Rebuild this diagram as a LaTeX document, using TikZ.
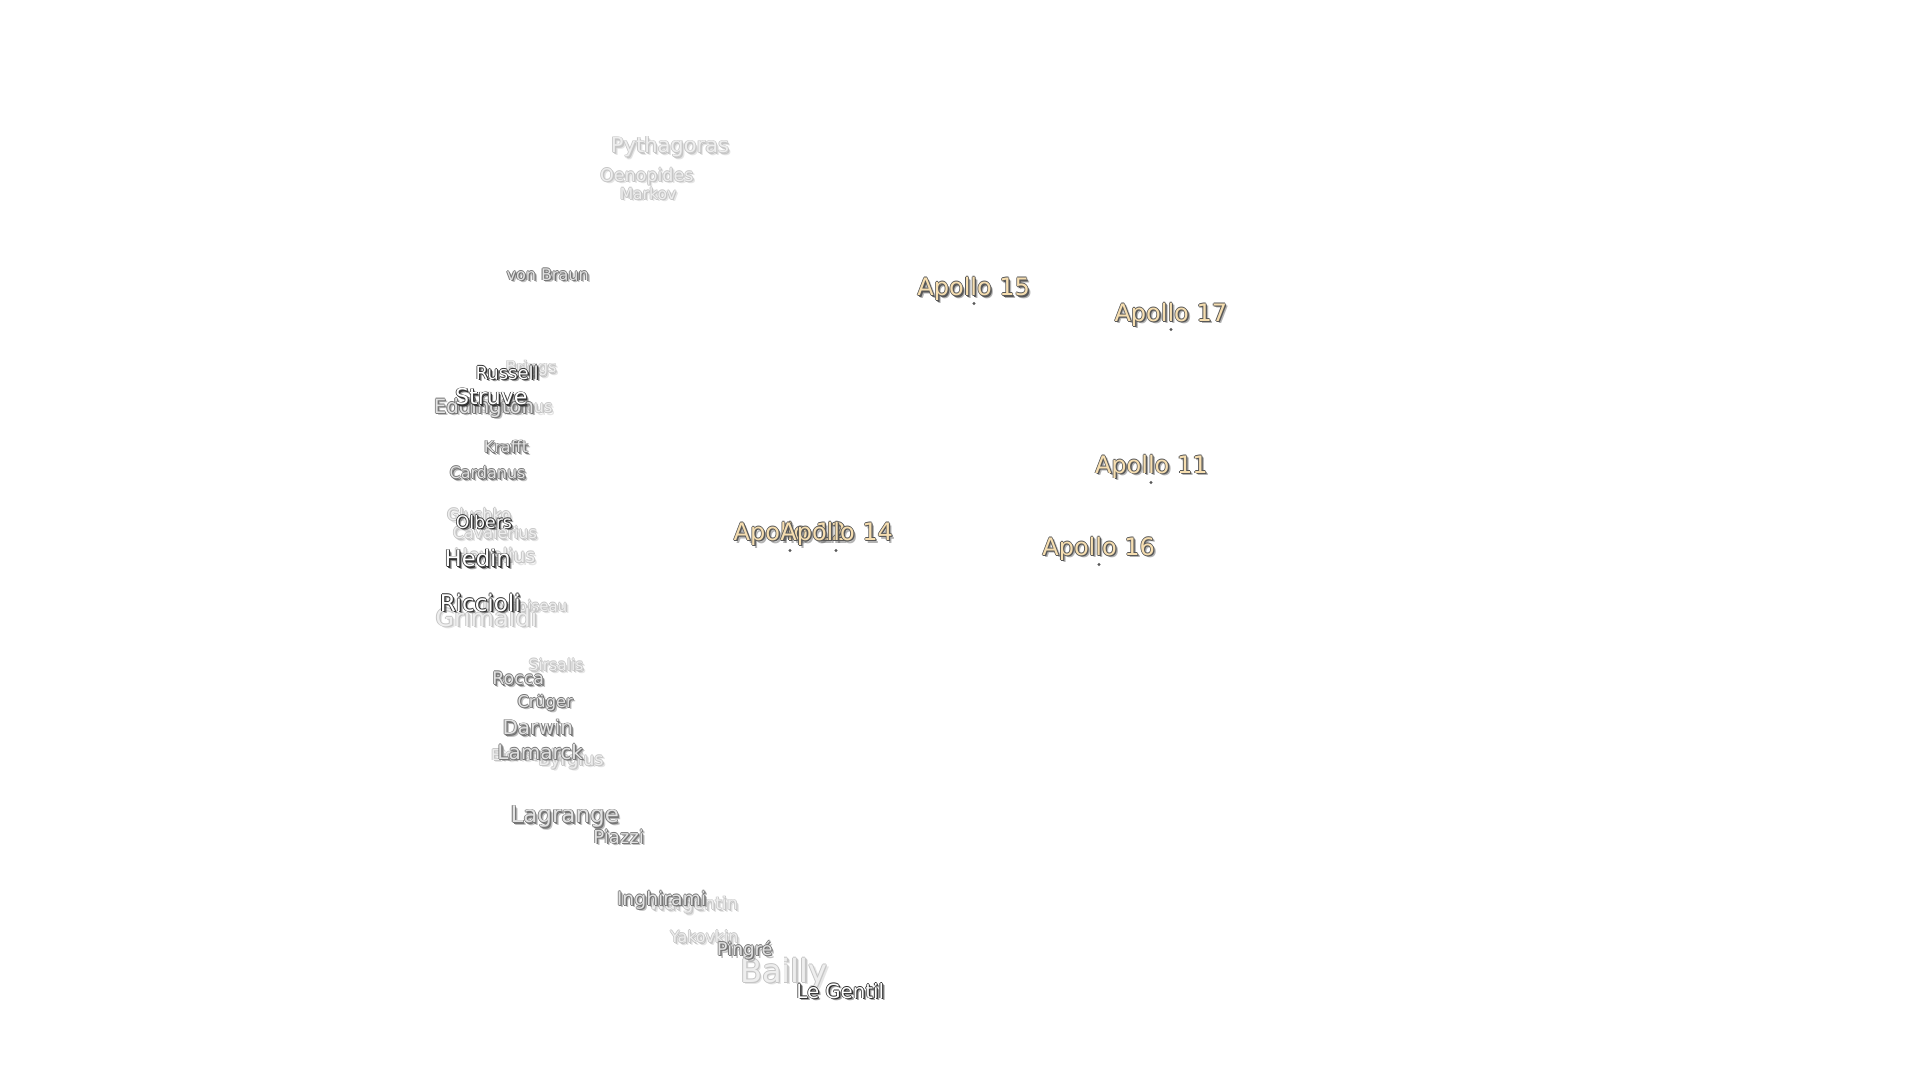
\documentclass[tikz,border=0pt]{standalone}
\usepackage{fontspec}
\setmainfont{DejaVu Sans}
\usepackage{tikz}

\definecolor{fadedfill}{HTML}{EEEEEE}
\definecolor{fadedshade}{HTML}{C6C6C6}
\definecolor{midfill}{HTML}{E2E2E2}
\definecolor{midshade}{HTML}{767676}
\definecolor{brightfill}{HTML}{FFFFFF}
\definecolor{brightshade}{HTML}{333333}
\definecolor{apollofill}{HTML}{F6DEB0}
\definecolor{apolloshade}{HTML}{585858}

\tikzset{
  lbl/.style={inner sep=0pt, anchor=center},
  fadedlbl/.style={text=fadedfill},
  fadedlbl shade/.style={text=fadedshade},
  midlbl/.style={text=midfill},
  midlbl shade/.style={text=midshade},
  brightlbl/.style={text=brightfill},
  brightlbl shade/.style={text=brightshade},
  apollolbl/.style={text=apollofill},
  apollolbl shade/.style={text=apolloshade},
  sitedot/.style={circle, fill=apolloshade, inner sep=0pt, minimum size=3.2pt}
}

\newcommand\crater[6]{%
  \node [lbl, #5 shade, opacity=0.45, font=\fontsize{#4}{#4}\selectfont] (#1-b) at (#2+2.6,#3+2.6) {#6};
  \node [lbl, #5 shade, font=\fontsize{#4}{#4}\selectfont] (#1-s) at (#2+1.4,#3+1.4) {#6};
  \node [lbl, #5 shade, font=\fontsize{#4}{#4}\selectfont] (#1-l) at (#2-0.8,#3) {#6};
  \node [lbl, #5 shade, font=\fontsize{#4}{#4}\selectfont] (#1-r) at (#2+0.8,#3) {#6};
  \node [lbl, #5 shade, font=\fontsize{#4}{#4}\selectfont] (#1-u) at (#2,#3-0.8) {#6};
  \node [lbl, #5 shade, font=\fontsize{#4}{#4}\selectfont] (#1-d) at (#2,#3+0.8) {#6};
  \node [lbl, #5, font=\fontsize{#4}{#4}\selectfont] (#1) at (#2,#3) {#6};
}

\begin{document}
\begin{tikzpicture}[x=1pt, y=-1pt]
\fill [white] (0,0) rectangle (1920,1080);
\useasboundingbox (0,0) rectangle (1920,1080);

\begin{scope}[shift={(-1,2.5)}]
\crater{pythagoras}{671}{144.5}{21}{fadedlbl}{Pythagoras}
\crater{oenopides}{647.8}{173.9}{17.5}{fadedlbl}{Oenopides}
\crater{markov}{649}{191}{15.5}{fadedlbl}{Markov}
\crater{briggs}{532}{366}{16}{fadedlbl}{Briggs}
\crater{seleucus}{517.5}{404}{16}{fadedlbl}{Seleucus}
\crater{glushko}{480}{512}{16}{fadedlbl}{Glushko}
\crater{cavalerius}{495.9}{530.2}{16}{fadedlbl}{Cavalerius}
\crater{hevelius}{495.5}{553}{19}{fadedlbl}{Hevelius}
\crater{damoiseau}{526}{603}{15}{fadedlbl}{Damoiseau}
\crater{grimaldi}{487.4}{614.7}{24}{fadedlbl}{Grimaldi}
\crater{sirsalis}{557.1}{662.5}{15.5}{fadedlbl}{Sirsalis}
\crater{eichstadt}{527}{752}{15}{fadedlbl}{Eichstadt}
\crater{byrgius}{571.8}{758}{17.5}{fadedlbl}{Byrgius}
\crater{wargentin}{694.3}{902.5}{17.4}{fadedlbl}{Wargentin}
\crater{yakovkin}{705.3}{934.3}{15.8}{fadedlbl}{Yakovkin}
\crater{bailly}{784.9}{971}{32}{fadedlbl}{Bailly}

\crater{vonbraun}{548.6}{271.8}{16}{midlbl}{von Braun}
\crater{eddington}{484.9}{405.3}{19.7}{midlbl}{Eddington}
\crater{krafft}{507}{444.5}{16}{midlbl}{Krafft}
\crater{cardanus}{488.6}{470.2}{16}{midlbl}{Cardanus}
\crater{rocca}{519.2}{675.9}{17.4}{midlbl}{Rocca}
\crater{cruger}{546.1}{700.4}{16.2}{midlbl}{Crüger}
\crater{darwin}{538.8}{724.9}{20}{midlbl}{Darwin}
\crater{lamarck}{541.2}{749.4}{20}{midlbl}{Lamarck}
\crater{lagrange}{565.7}{814.3}{23}{midlbl}{Lagrange}
\crater{piazzi}{619.6}{833.9}{18}{midlbl}{Piazzi}
\crater{inghirami}{662.5}{897.6}{18.8}{midlbl}{Inghirami}
\crater{pingre}{745.7}{947.8}{17.7}{midlbl}{Pingré}

\crater{russell}{508.2}{369.8}{18}{brightlbl}{Russell}
\crater{struve}{492.3}{394.3}{22}{brightlbl}{Struve}
\crater{olbers}{484.9}{519.2}{17.3}{brightlbl}{Olbers}
\crater{hedin}{478.8}{555.9}{22.7}{brightlbl}{Hedin}
\crater{riccioli}{481.2}{600}{23}{brightlbl}{Riccioli}
\crater{legentil}{841.2}{988.2}{19.7}{brightlbl}{Le Gentil}

\node [sitedot] (a12-dot) at (791,548) {};
\crater{apollotwelve}{791}{531.4}{24}{apollolbl}{Apollo 12}
\node [sitedot] (a14-dot) at (837,548) {};
\crater{apollofourteen}{837.6}{531.4}{24}{apollolbl}{Apollo 14}
\node [sitedot] (a15-dot) at (975,301) {};
\crater{apollofifteen}{974.7}{286.5}{24}{apollolbl}{Apollo 15}
\node [sitedot] (a17-dot) at (1172,327) {};
\crater{apolloseventeen}{1171.8}{312.2}{24}{apollolbl}{Apollo 17}
\node [sitedot] (a11-dot) at (1152,480) {};
\crater{apolloeleven}{1152.3}{464}{24}{apollolbl}{Apollo 11}
\node [sitedot] (a16-dot) at (1100,562) {};
\crater{apollosixteen}{1099.6}{546.1}{24}{apollolbl}{Apollo 16}
\end{scope}
\end{tikzpicture}
\end{document}
